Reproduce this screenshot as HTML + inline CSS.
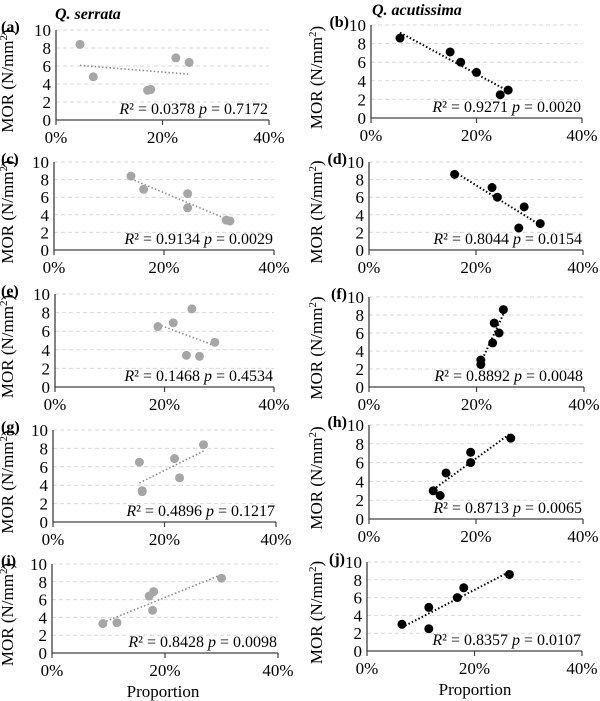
<!DOCTYPE html>
<html><head><meta charset="utf-8"><style>
body{margin:0;background:#fff}
svg{display:block}
text,tspan{font-family:'Liberation Serif','Times New Roman',serif !important}
</style></head><body>
<svg id="chart" width="600" height="701" viewBox="0 0 600 701">
<text x="55" y="19" font-size="16" font-weight="bold" font-style="italic">Q. serrata</text>
<text x="372" y="15" font-size="16" font-weight="bold" font-style="italic">Q. acutissima</text>
<text x="163" y="697" font-size="17" text-anchor="middle" style="font-family:'Liberation Serif',serif">Proportion</text>
<text x="475" y="695" font-size="17" text-anchor="middle" style="font-family:'Liberation Serif',serif">Proportion</text>
</svg>
<script>
const panelIds = ["a","b","c","d","e","f","g","h","i","j"];
const statsText = ["R² = 0.0378 p = 0.7172","R² = 0.9271 p = 0.0020","R² = 0.9134 p = 0.0029","R² = 0.8044 p = 0.0154","R² = 0.1468 p = 0.4534","R² = 0.8892 p = 0.0048","R² = 0.4896 p = 0.1217","R² = 0.8713 p = 0.0065","R² = 0.8428 p = 0.0098","R² = 0.8357 p = 0.0107"];
const xVals = [
 [4.5,7,17.2,17.8,22.5,25],
 [5.5,15,17,20,24.5,26],
 [14,16.3,24.3,24.3,31.3,32],
 [16,23,24,29,28,32],
 [18.8,21.6,25,24,26.4,29.2],
 [20.8,20.8,23,23.3,24.2,25],
 [15.5,16,16,21.8,22.7,27],
 [12,13.3,14.4,19,19,26.5],
 [9,11.5,17.2,18,17.8,30],
 [6.5,11.5,11.5,16.8,18,26.5]
];
const yVals = [
 [8.4,4.8,3.3,3.4,6.9,6.4],
 [8.6,7.1,6,4.9,2.5,3],
 [8.4,6.9,6.4,4.8,3.4,3.3],
 [8.6,7.1,6,4.9,2.5,3],
 [6.5,6.9,8.4,3.4,3.3,4.8],
 [3,2.5,4.9,7.1,6,8.6],
 [6.5,3.4,3.3,6.9,4.8,8.4],
 [3,2.5,4.9,7.1,6,8.6],
 [3.3,3.4,6.4,6.9,4.8,8.4],
 [3,4.9,2.5,6,7.1,8.6]
];
const xTicks = [0,20,40];
const xTickLabels = ["0%","20%","40%"];
const yTicks = [0,2,4,6,8,10];
// layout geometry [x0px, x40px, y10px, y0px]
const geom = [[56,269,30,120],[371,582,25,118],[54,274,162,250],[369,583,162,250],[55,274,294,387],[369,584,297,387],[53,276,430,522],[369,583,425,519],[52,278,564,653],[367,582,562,651]];
const NS="http://www.w3.org/2000/svg";
const svg=document.getElementById('chart');
const FF="font-family:'Liberation Serif',serif";
function mk(tag,attrs,parent){const e=document.createElementNS(NS,tag);for(const k in attrs)e.setAttribute(k,attrs[k]);if(tag==='text')e.setAttribute('style',FF);parent.appendChild(e);return e;}
panelIds.forEach((id,p)=>{
 const [gx0,gx1,gy1,gy0]=geom[p];
 const right=p%2===1;
 const sx=v=>gx0+(gx1-gx0)*v/40;
 const sy=v=>gy0-(gy0-gy1)*v/10;
 const g=mk('g',{},svg);
 
 
 yTicks.forEach(t=>{
  if(t>0){const l=mk('line',{x1:gx0,x2:gx1,y1:sy(t),y2:sy(t),stroke:'#d9d9d9','stroke-width':1,'stroke-dasharray':'4,3'},g);
   
   }
  const tx=mk('text',{x:gx0-5,y:sy(t)+6,'font-size':17,'text-anchor':'end',fill:'#000'},g);
  tx.textContent=t;
  
  
 });
 const ax=mk('path',{d:`M${gx0},${gy1} V${gy0} H${gx1}`,fill:'none',stroke:'#404040','stroke-width':1.3},g);
 
 
 xTicks.forEach((t,i)=>{
  mk('line',{x1:sx(t),x2:sx(t),y1:gy0,y2:gy0+5,stroke:'#404040','stroke-width':1.2},g);
  const tx=mk('text',{x:sx(t),y:gy0+23,'font-size':17,'text-anchor':'middle'},g);
  tx.textContent=xTickLabels[i];
  
  
 });
 const yl=right?322:13; const ym=(gy0+gy1)/2+6;
 const yt=mk('text',{x:yl,y:ym,'font-size':17,'text-anchor':'middle',transform:`rotate(-90 ${yl} ${ym})`},g);
 yt.innerHTML='MOR (N/mm<tspan dy="-6" font-size="11">2</tspan><tspan dy="6">)</tspan>';
 
 
 const lb=mk('text',{x:right?gx0-22:1,y:gy1+2,'font-size':16,'font-weight':'bold','text-anchor':right?'end':'start'},g);
 lb.textContent='('+id+')';
 
 
 const xs=xVals[p], ys=yVals[p], n=xs.length;
 const mx=xs.reduce((a,b)=>a+b)/n, my=ys.reduce((a,b)=>a+b)/n;
 let sxy=0,sxx=0;for(let i=0;i<n;i++){sxy+=(xs[i]-mx)*(ys[i]-my);sxx+=(xs[i]-mx)**2;}
 const b=sxy/sxx,a=my-b*mx; const xmin=Math.min(...xs),xmax=Math.max(...xs);
 const col=right?'#000':'#a6a6a6';
 const tl=mk('line',{x1:sx(xmin),y1:sy(a+b*xmin),x2:sx(xmax),y2:sy(a+b*xmax),stroke:right?'#000':'#8c8c8c','stroke-width':right?2:1.6,'stroke-dasharray':'1.5,2.2'},g);
 
 
 for(let i=0;i<n;i++){
  const c=mk('circle',{cx:sx(xs[i]),cy:sy(ys[i]),r:4.5,fill:col},g);
  
  
 }
 const st=mk('text',{x:gx1-1,y:gy0-6,'font-size':16,'text-anchor':'end'},g);
 const parts=statsText[p].split(' p ');
 st.innerHTML='<tspan font-style="italic">R</tspan>'+parts[0].slice(1)+' <tspan font-style="italic">p</tspan> '+parts[1];
 
 
});
</script>
</body></html>
